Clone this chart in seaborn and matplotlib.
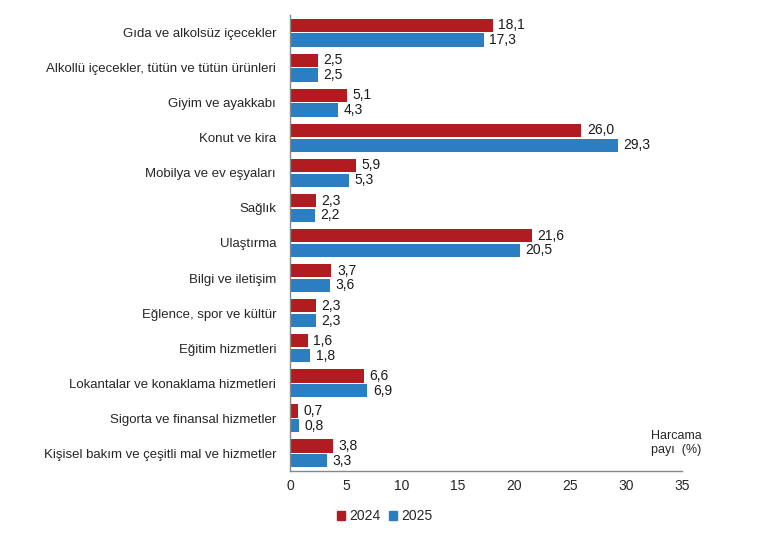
import matplotlib
matplotlib.use("Agg")
import matplotlib.pyplot as plt
import seaborn as sns
import pandas as pd
import numpy as np

categories = ["Gıda ve alkolsüz içecekler", "Alkollü içecekler, tütün ve tütün ürünleri",
              "Giyim ve ayakkabı", "Konut ve kira", "Mobilya ve ev eşyaları", "Sağlık",
              "Ulaştırma", "Bilgi ve iletişim", "Eğlence, spor ve kültür", "Eğitim hizmetleri",
              "Lokantalar ve konaklama hizmetleri", "Sigorta ve finansal hizmetler",
              "Kişisel bakım ve çeşitli mal ve hizmetler"]
v2024 = [18.1, 2.5, 5.1, 26.0, 5.9, 2.3, 21.6, 3.7, 2.3, 1.6, 6.6, 0.7, 3.8]
v2025 = [17.3, 2.5, 4.3, 29.3, 5.3, 2.2, 20.5, 3.6, 2.3, 1.8, 6.9, 0.8, 3.3]
years = ["2024", "2025"]
xticks = [0, 5, 10, 15, 20, 25, 30, 35]

df = pd.DataFrame({
    "cat": categories * 2,
    "val": v2024 + v2025,
    "year": [years[0]] * len(categories) + [years[1]] * len(categories),
})

sns.set_style("white")
plt.rcParams["font.family"] = ["Liberation Sans", "DejaVu Sans"]

fig = plt.figure(figsize=(7.68, 5.42), dpi=100)
ax = fig.add_axes([290/768, 1-471/542, (682-290)/768, (471-15)/542])
palette = {"2024": "#B01C1F", "2025": "#2B7EC1"}
sns.barplot(data=df, x="val", y="cat", hue="year", palette=palette, orient="h",
            width=0.84, gap=0.1, ax=ax, saturation=1, linewidth=0)

for cont in ax.containers:
    ax.bar_label(cont, labels=[f"{v:.1f}".replace(".", ",") for v in cont.datavalues],
                 padding=4, fontsize=10, color="#1a1a1a")

ax.set_xlim(0, 35)
ax.set_ylim(len(categories) - 0.5, -0.5)
ax.set_xticks(xticks)
ax.set_xticklabels([str(t) for t in xticks], fontsize=10)
ax.set_xlabel("")
ax.set_ylabel("")
ax.tick_params(axis="y", which="major", length=0, labelsize=9.5, pad=10)
ax.set_yticks(np.arange(-0.5, len(categories), 1), minor=True)
ax.tick_params(axis="y", which="minor", length=5, direction="out", color="#888888")
ax.tick_params(axis="x", which="major", length=5, direction="in", color="#888888", pad=6)
for s in ["top", "right"]:
    ax.spines[s].set_visible(False)
for s in ["left", "bottom"]:
    ax.spines[s].set_color("#888888")
    ax.spines[s].set_linewidth(1)

ax.legend_.remove()
handles = [plt.Rectangle((0, 0), 1, 1, color=palette[y]) for y in years]
fig.legend(handles, years, loc="center", bbox_to_anchor=(385/768, 1-516/542), ncol=2,
           frameon=False, fontsize=10, handlelength=0.6, handleheight=0.6,
           handletextpad=0.3, columnspacing=0.6)

fig.text(676/768, 1-443/542, "Harcama\npayı  (%)", ha="center", va="center", fontsize=9,
         linespacing=1.3)

fig.savefig("out.png", dpi=100)
